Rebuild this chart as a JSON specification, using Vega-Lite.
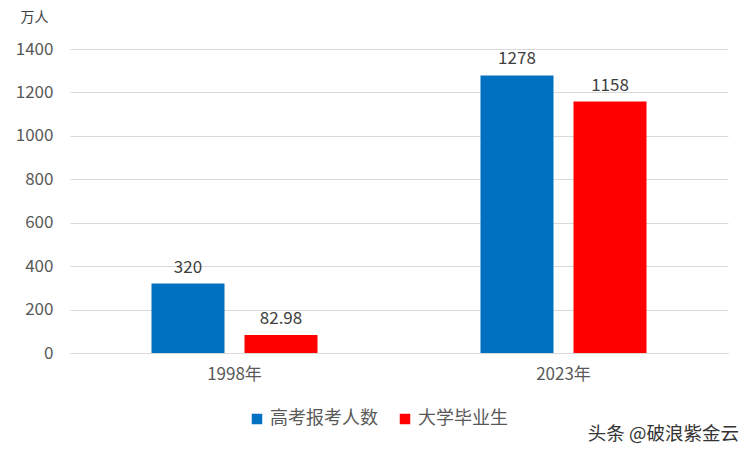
{
  "$schema": "https://vega.github.io/schema/vega-lite/v6.json",
  "width": 658,
  "height": 304,
  "autosize": {"type": "none"},
  "padding": {"left": 70, "top": 49, "right": 24, "bottom": 100},
  "background": "white",
  "config": {
    "view": {"stroke": null},
    "font": "Noto Sans CJK SC",
    "text": {"font": "Noto Sans CJK SC"}
  },
  "title": {
    "text": "头条 @破浪紫金云",
    "orient": "bottom",
    "anchor": "end",
    "fontSize": 18.5,
    "fontWeight": "normal",
    "color": "#333333",
    "font": "Noto Sans CJK SC",
    "offset": -3,
    "dx": 11
  },
  "data": {
    "values": [
      {"year": "1998年", "series": "高考报考人数", "value": 320, "label": "320"},
      {"year": "1998年", "series": "大学毕业生", "value": 82.98, "label": "82.98"},
      {"year": "2023年", "series": "高考报考人数", "value": 1278, "label": "1278"},
      {"year": "2023年", "series": "大学毕业生", "value": 1158, "label": "1158"}
    ]
  },
  "encoding": {
    "x": {
      "field": "year",
      "type": "nominal",
      "scale": {"paddingInner": 0.4954, "paddingOuter": 0.2477},
      "axis": {
        "title": null,
        "labelAngle": 0,
        "domain": true,
        "domainColor": "#d9d9d9",
        "ticks": false,
        "labelFontSize": 17,
        "labelColor": "#595959",
        "labelPadding": 13
      }
    },
    "xOffset": {
      "field": "series",
      "sort": ["高考报考人数", "大学毕业生"],
      "scale": {"paddingInner": 0.215, "paddingOuter": 0}
    },
    "y": {
      "field": "value",
      "type": "quantitative",
      "scale": {"domain": [0, 1400]},
      "axis": {
        "title": "万人",
        "titleAngle": 0,
        "titleX": -50,
        "titleY": -32,
        "titleAlign": "left",
        "titleBaseline": "middle",
        "titleFontSize": 14,
        "titleFontWeight": "normal",
        "titleColor": "#404040",
        "values": [0, 200, 400, 600, 800, 1000, 1200, 1400],
        "format": "d",
        "domain": false,
        "ticks": false,
        "grid": true,
        "gridColor": "#d9d9d9",
        "labelFontSize": 17,
        "labelColor": "#595959",
        "labelPadding": 17
      }
    }
  },
  "layer": [
    {
      "mark": {"type": "bar"},
      "encoding": {
        "color": {
          "field": "series",
          "type": "nominal",
          "sort": ["高考报考人数", "大学毕业生"],
          "scale": {"domain": ["高考报考人数", "大学毕业生"], "range": ["#0070C0", "#FF0000"]},
          "legend": {
            "title": null,
            "orient": "none",
            "direction": "horizontal",
            "legendX": 178,
            "legendY": 361,
            "symbolType": "square",
            "symbolSize": 110,
            "symbolStrokeWidth": 0,
            "labelFontSize": 18,
            "labelColor": "#595959",
            "labelOffset": 4,
            "columnPadding": 18
          }
        }
      }
    },
    {
      "mark": {"type": "text", "baseline": "bottom", "dy": -7, "fontSize": 17, "color": "#404040"},
      "encoding": {
        "text": {"field": "label", "type": "nominal"}
      }
    }
  ]
}
